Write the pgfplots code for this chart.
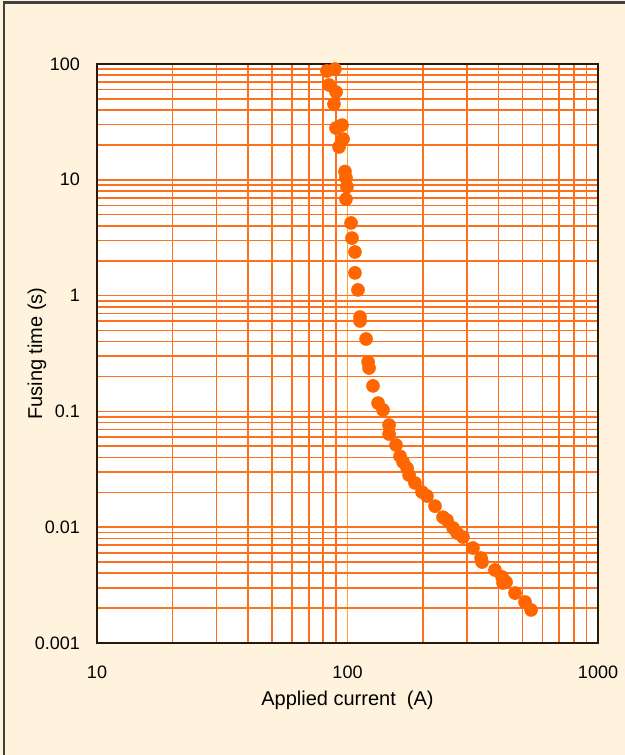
\documentclass[border=0pt]{standalone}
\usepackage{pgfplots}
\pgfplotsset{compat=1.18}
\usepackage{fontspec}
\setmainfont{Liberation Sans}
\definecolor{bgcream}{RGB}{255,243,222}
\definecolor{gridor}{RGB}{255,112,30}
\definecolor{gridlt}{RGB}{255,165,50}
\definecolor{markor}{RGB}{255,102,0}
\definecolor{frame}{RGB}{40,25,10}
\begin{document}
\begin{tikzpicture}
% background panel, picture is 312.5pt x 377.5pt
\fill[bgcream] (-48.5pt,-56pt) rectangle (264pt,321.5pt);
\draw[line width=1.2pt, black!75] (-46.5pt,-60pt) -- (-46.5pt,320.2pt) -- (270pt,320.2pt);
\begin{axis}[
    at={(0,0)}, anchor=south west,
    scale only axis,
    width=250.5pt, height=289.5pt,
    xmode=log, ymode=log,
    xmin=10, xmax=1000, ymin=0.001, ymax=100,
    axis background/.style={fill=white},
    axis line style={draw=frame, line width=1pt},
    xtick={10,100,1000}, xticklabels={10,100,1000},
    ytick={0.001,0.01,0.1,1,10,100},
    yticklabels={0.001,0.01,0.1,1,10,100},
    major tick length=0pt, minor tick length=0pt,
    grid=both,
    minor grid style={draw=gridor, line width=0.8pt},
    major grid style={draw=gridor, line width=0.8pt},
    major x grid style={draw=gridlt, line width=0.8pt},
    tick label style={font=\fontsize{9}{10}\selectfont},
    xticklabel style={yshift=-8pt},
    yticklabel style={xshift=-5pt},
    label style={font=\fontsize{10}{12}\selectfont},
    xlabel={Applied current\ \ (A)},
    ylabel={Fusing time (s)},
    xlabel style={at={(axis description cs:0.5,0)}, anchor=center, yshift=-28.5pt},
    ylabel style={at={(axis description cs:-0.1198,0.5)}, anchor=center},
    /pgf/number format/assume math mode=true,
  ]
  \addplot[only marks, mark=*, mark size=3.2pt, color=markor] coordinates {
    (82.8,87.0) (89.1,90.5) (84.4,65.9) (90.0,57.3) (88.3,45.1)
    (90.0,28.0) (95.1,29.7) (92.5,19.2) (96.0,22.5)
    (97.7,11.8) (98.6,10.4) (99.5,8.7) (98.6,6.8)
    (103.3,4.24) (104.2,3.14) (107.1,2.38) (107.1,1.57) (110.1,1.12)
    (112.2,0.653) (112.2,0.604) (118.6,0.422) (120.8,0.267) (121.9,0.237)
    (126.4,0.166) (132.4,0.118) (138.6,0.103) (146.5,0.0763) (146.5,0.0638)
    (156.2,0.0513) (162.1,0.041) (166.6,0.0366) (172.9,0.0324) (176.1,0.0282)
    (185.9,0.0241) (198.3,0.0201) (207.6,0.0186) (223.5,0.0152)
    (240.6,0.0122) (249.6,0.0115) (263.9,0.00985) (273.7,0.00891) (289.1,0.00822)
    (316.9,0.00661) (341.3,0.00542) (344.4,0.0050) (388.0,0.00427)
    (413.9,0.00372) (417.7,0.0033) (429.4,0.00336) (466.4,0.0027)
    (511.3,0.00226) (540.5,0.00193)
  };
\end{axis}
\pgfresetboundingbox
\useasboundingbox (-48.5pt,-56pt) rectangle (264pt,321.5pt);
\end{tikzpicture}
\end{document}
